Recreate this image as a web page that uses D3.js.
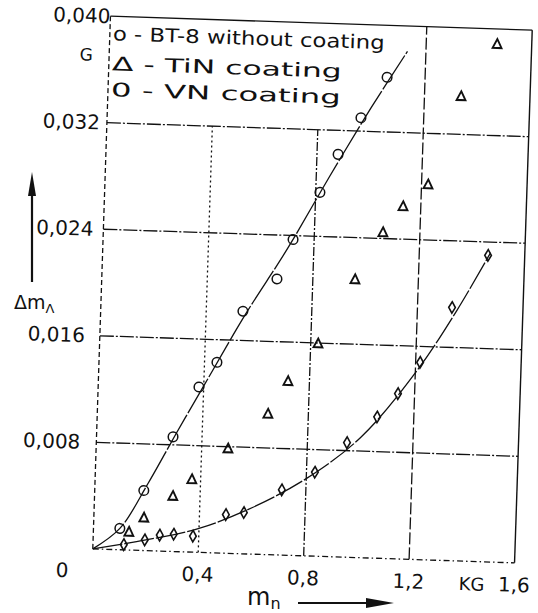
<!DOCTYPE html>
<html>
<head>
<meta charset="utf-8">
<script src="https://cdn.jsdelivr.net/npm/d3@7"></script>
<style>
  body { margin: 0; background: #fff; }
  text { font-family: "DejaVu Sans", sans-serif; fill: #111; }
</style>
</head>
<body>
<div id="chart"></div>
<script>
// values
const xTicks = [0.4, 0.8, 1.2, 1.6];
const xTickLabels = ['0,4', '0,8', '1,2', '1,6'];
const yTicks = [0.008, 0.016, 0.024, 0.032, 0.040];
const yTickLabels = ['0,008', '0,016', '0,024', '0,032', '0,040'];

// o - BT-8 without coating
const bareX = [0.100, 0.186, 0.290, 0.382, 0.447, 0.539, 0.664, 0.720, 0.816, 0.880, 0.962, 1.056];
const bareY = [0.0016, 0.0045, 0.0086, 0.0124, 0.0143, 0.0182, 0.0207, 0.0237, 0.0273, 0.0302, 0.0330, 0.0361];
const bareCurveX = [0, 0.1, 0.2, 0.3, 0.4, 0.55, 0.7, 0.85, 1.0, 1.13];
const bareCurveY = [0, 0.0016, 0.0050, 0.0088, 0.0125, 0.0180, 0.0230, 0.0285, 0.0338, 0.0381];

// triangle - TiN coating
const tinX = [0.135, 0.190, 0.297, 0.367, 0.500, 0.647, 0.719, 0.828, 0.960, 1.060, 1.133, 1.225, 1.339, 1.469];
const tinY = [0.0013, 0.0024, 0.0041, 0.0054, 0.0078, 0.0105, 0.0130, 0.0159, 0.0208, 0.0244, 0.0264, 0.0281, 0.0348, 0.0388];

// diamond - VN coating
const vnX = [0.117, 0.196, 0.252, 0.305, 0.378, 0.500, 0.568, 0.709, 0.832, 0.950, 1.061, 1.137, 1.217, 1.331, 1.461];
const vnY = [0.0004, 0.0008, 0.0012, 0.0013, 0.0012, 0.0029, 0.0031, 0.0049, 0.0063, 0.0086, 0.0106, 0.0124, 0.0148, 0.0190, 0.0230];
const vnCurveX = [0, 0.2, 0.4, 0.6, 0.8, 1.0, 1.2, 1.35, 1.47];
const vnCurveY = [0, 0.0008, 0.0018, 0.0035, 0.0058, 0.0090, 0.0140, 0.0188, 0.0232];

const legendItems = ['o - BT-8 without coating', '\u0394 - TiN coating', '0 - VN coating'];

const width = 538, height = 613;
const plot = { left: 101.5, top: 23, right: 523.5, bottom: 556 };

const svg = d3.select('#chart').append('svg')
    .attr('width', width)
    .attr('height', height);

// the scan is slightly turned, so the frame is too
const g = svg.append('g')
    .attr('transform', 'rotate(1.9, 312.5, 289.5)');

const x = d3.scaleLinear().domain([0, 1.6]).range([plot.left, plot.right]);
const y = d3.scaleLinear().domain([0, 0.040]).range([plot.bottom, plot.top]);

const ink = '#111';

// frame
g.append('line')
    .attr('x1', x(0)).attr('x2', x(0)).attr('y1', y(0)).attr('y2', y(0.040))
    .attr('stroke', ink).attr('stroke-width', 1.3).attr('stroke-dasharray', '5,3');
g.append('line')
    .attr('x1', x(0)).attr('x2', x(1.6)).attr('y1', y(0)).attr('y2', y(0))
    .attr('stroke', ink).attr('stroke-width', 1.3).attr('stroke-dasharray', '6,3,1.5,3');
g.append('line')
    .attr('x1', x(0)).attr('x2', x(1.6)).attr('y1', y(0.040)).attr('y2', y(0.040))
    .attr('stroke', ink).attr('stroke-width', 1.4);

// horizontal grid
g.selectAll('.hgrid')
    .data(yTicks.filter(v => v < 0.040))
    .enter()
    .append('line')
    .attr('class', 'hgrid')
    .attr('x1', x(0)).attr('x2', x(1.6))
    .attr('y1', d => y(d)).attr('y2', d => y(d))
    .attr('stroke', ink).attr('stroke-width', 1.3)
    .attr('stroke-dasharray', '14,2,2,2');

// vertical grid; 0.4 and 0.8 stop under the legend
const vDash = ['2,3', '9,2,2,2', '12,3', null];
g.selectAll('.vgrid')
    .data(xTicks)
    .enter()
    .append('line')
    .attr('class', 'vgrid')
    .attr('x1', d => x(d)).attr('x2', d => x(d))
    .attr('y1', y(0))
    .attr('y2', d => d < 1 ? y(0.032) : y(0.040))
    .attr('stroke', ink).attr('stroke-width', (d, i) => i === 3 ? 1.4 : 1.3)
    .attr('stroke-dasharray', (d, i) => vDash[i]);

// tick labels
g.selectAll('.xlab')
    .data(xTicks)
    .enter()
    .append('text')
    .attr('x', d => x(d))
    .attr('y', y(0) + 29)
    .attr('text-anchor', 'middle')
    .style('font-size', '20px')
    .text((d, i) => xTickLabels[i]);

g.append('text')
    .attr('x', x(0) - 30).attr('y', y(0) + 29)
    .attr('text-anchor', 'middle')
    .style('font-size', '20px')
    .text('0');

g.append('text')
    .attr('x', x(1.44)).attr('y', y(0) + 29)
    .attr('text-anchor', 'middle')
    .style('font-size', '18px')
    .text('KG');

const yOff = [-16, -15, -10, -7, 0];
g.selectAll('.ylab')
    .data(yTicks)
    .enter()
    .append('text')
    .attr('x', (d, i) => x(0) + yOff[i])
    .attr('y', d => y(d) + 7)
    .attr('text-anchor', 'end')
    .style('font-size', '20px')
    .text((d, i) => yTickLabels[i]);

g.append('text')
    .attr('x', x(0) - 23).attr('y', y(0.040) + 45)
    .attr('text-anchor', 'middle')
    .style('font-size', '17px')
    .text('G');

// legend
g.selectAll('.legend')
    .data(legendItems)
    .enter()
    .append('text')
    .attr('x', x(0) + 3)
    .attr('y', (d, i) => y(0.040) + [24, 54, 80][i])
    .style('font-size', '19px')
    .attr('textLength', (d, i) => [272, 230, 230][i])
    .attr('lengthAdjust', 'spacingAndGlyphs')
    .text(d => d);

// curves
const line = d3.line()
    .x(d => x(d[0]))
    .y(d => y(d[1]))
    .curve(d3.curveCatmullRom);

g.append('path')
    .datum(bareCurveX.map((v, i) => [v, bareCurveY[i]]))
    .attr('d', line)
    .attr('fill', 'none')
    .attr('stroke', ink)
    .attr('stroke-width', 1.3)
    .attr('stroke-dasharray', '40,2');

g.append('path')
    .datum(vnCurveX.map((v, i) => [v, vnCurveY[i]]))
    .attr('d', line)
    .attr('fill', 'none')
    .attr('stroke', ink)
    .attr('stroke-width', 1.3)
    .attr('stroke-dasharray', '30,2');

// markers
g.selectAll('.bare')
    .data(bareX.map((v, i) => [v, bareY[i]]))
    .enter()
    .append('circle')
    .attr('cx', d => x(d[0]))
    .attr('cy', d => y(d[1]))
    .attr('r', 4.8)
    .attr('fill', 'none')
    .attr('stroke', ink)
    .attr('stroke-width', 1.5);

const tri = d3.symbol().type(d3.symbolTriangle).size(34);
g.selectAll('.tin')
    .data(tinX.map((v, i) => [v, tinY[i]]))
    .enter()
    .append('path')
    .attr('d', tri)
    .attr('transform', d => `translate(${x(d[0])},${y(d[1])}) scale(1,1.15)`)
    .attr('fill', 'none')
    .attr('stroke', ink)
    .attr('stroke-width', 1.8);

const dia = d3.symbol().type(d3.symbolDiamond).size(38);
g.selectAll('.vn')
    .data(vnX.map((v, i) => [v, vnY[i]]))
    .enter()
    .append('path')
    .attr('d', dia)
    .attr('transform', d => `translate(${x(d[0])},${y(d[1])})`)
    .attr('fill', 'none')
    .attr('stroke', ink)
    .attr('stroke-width', 1.6);

// axis titles with arrows (unturned)
svg.append('line')
    .attr('x1', 32).attr('x2', 32).attr('y1', 282).attr('y2', 190)
    .attr('stroke', ink).attr('stroke-width', 2.2);
svg.append('path')
    .attr('d', 'M32,172 L28,196 L36,196 Z')
    .attr('fill', ink);

const yTitle = svg.append('text')
    .attr('x', 14).attr('y', 309)
    .style('font-size', '19px');
yTitle.append('tspan').text('\u0394m');
yTitle.append('tspan').attr('dy', 4).style('font-size', '13px').text('\u039b');

const xTitle = svg.append('text')
    .attr('x', 247).attr('y', 605)
    .style('font-size', '24px');
xTitle.append('tspan').text('m');
xTitle.append('tspan').attr('dy', 4).style('font-size', '16px').text('n');

svg.append('line')
    .attr('x1', 298).attr('x2', 372).attr('y1', 603).attr('y2', 603)
    .attr('stroke', ink).attr('stroke-width', 1.8);
svg.append('path')
    .attr('d', 'M394,603 L366,598 L366,608 Z')
    .attr('fill', ink);
</script>
</body>
</html>
